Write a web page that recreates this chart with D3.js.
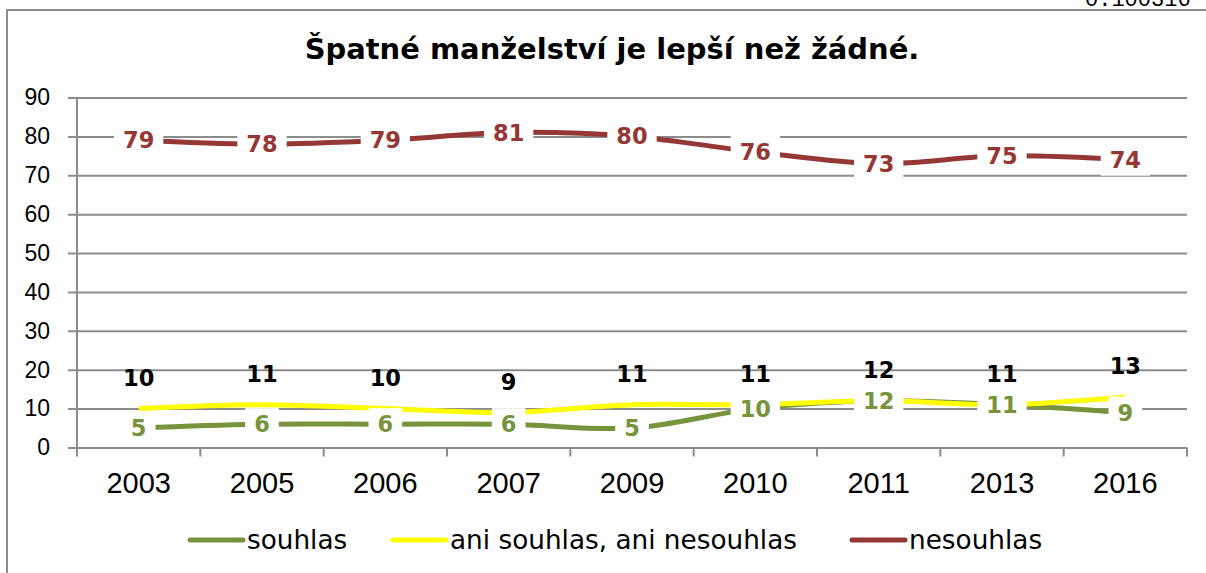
<!DOCTYPE html>
<html>
<head>
<meta charset="utf-8">
<script src="https://cdn.jsdelivr.net/npm/d3@7"></script>
<style>
  body { margin: 0; background: #fff; }
  svg { display: block; font-family: 'DejaVu Sans', Verdana, sans-serif; }
</style>
</head>
<body>
<script>
// data
const years = ["2003", "2005", "2006", "2007", "2009", "2010", "2011", "2013", "2016"];
const souhlas = [5, 6, 6, 6, 5, 10, 12, 11, 9];
const ani = [10, 11, 10, 9, 11, 11, 12, 11, 13];
const nesouhlas = [79, 78, 79, 81, 80, 76, 73, 75, 74];
const yTicks = [0, 10, 20, 30, 40, 50, 60, 70, 80, 90];
const seriesNames = ["souhlas", "ani souhlas, ani nesouhlas", "nesouhlas"];

const width = 1206, height = 573;
const plotLeft = 77, plotRight = 1187, plotTop = 97.5, plotBottom = 447.5;

const series = [
  { name: seriesNames[0], values: souhlas, color: "#77933C", labelColor: "#77933C", box: true, dy: 0 },
  { name: seriesNames[1], values: ani, color: "#FFFF00", labelColor: "#000", box: false, dy: -31 },
  { name: seriesNames[2], values: nesouhlas, color: "#953735", labelColor: "#953735", box: true, dy: 0 }
];

const svg = d3.select("body").append("svg")
  .attr("width", width)
  .attr("height", height);

// outer frame
svg.append("path")
  .attr("d", `M7,${height + 5} L7,10 L${width + 5},10`)
  .attr("fill", "none")
  .attr("stroke", "#8c8c8c")
  .attr("stroke-width", 2);

// clipped page text above the frame
svg.append("text")
  .attr("x", 1085).attr("y", 6)
  .style("font-family", "'Liberation Mono', monospace")
  .style("font-size", "22px")
  .text("0.100316");

// title
const title = svg.append("text")
  .attr("x", 612).attr("y", 59)
  .attr("text-anchor", "middle")
  .style("font-weight", "bold")
  .style("font-size", "28px")
  .text("Špatné manželství je lepší než žádné.");
const tw = title.node().getComputedTextLength();
title.style("font-size", (28 * 615 / tw) + "px");

const x = d3.scaleBand().domain(years).range([plotLeft, plotRight]);
const y = d3.scaleLinear().domain([0, 90]).range([plotBottom, plotTop]);

// gridlines + y axis
const yAxis = d3.axisLeft(y).tickValues(yTicks).tickSize(-(plotRight - plotLeft)).tickPadding(27);
const gy = svg.append("g").attr("transform", `translate(${plotLeft},0)`).call(yAxis);
gy.select(".domain").remove();
gy.selectAll(".tick line").attr("stroke", "#8c8c8c").attr("stroke-width", 2).attr("x1", -9);
gy.selectAll(".tick text").style("font-size", "23px").attr("fill", "#000");

// x axis
const gx = svg.append("g").attr("transform", `translate(0,${plotBottom})`)
  .call(d3.axisBottom(x).tickSize(0).tickPadding(25));
gx.select(".domain").remove();
gx.selectAll(".tick text").style("font-size", "29px").attr("fill", "#000");
svg.append("line")
  .attr("x1", plotLeft).attr("x2", plotLeft).attr("y1", plotTop).attr("y2", plotBottom + 9)
  .attr("stroke", "#8c8c8c").attr("stroke-width", 2);
svg.selectAll(".xtick")
  .data(years)
  .enter().append("line")
  .attr("x1", d => x(d) + x.bandwidth())
  .attr("x2", d => x(d) + x.bandwidth())
  .attr("y1", plotBottom).attr("y2", plotBottom + 9)
  .attr("stroke", "#8c8c8c").attr("stroke-width", 2);

const cx = d => x(d) + x.bandwidth() / 2;

// lines
const line = d3.line()
  .x((d, i) => cx(years[i]))
  .y(d => y(d))
  .curve(d3.curveCardinal.tension(0));

series.forEach(s => {
  svg.append("path")
    .datum(s.values)
    .attr("d", line)
    .attr("fill", "none")
    .attr("stroke", s.color)
    .attr("stroke-width", 5);
});

// data labels
series.forEach(s => {
  const g = svg.append("g");
  s.values.forEach((v, i) => {
    const px = cx(years[i]), py = y(v) + s.dy;
    const lbl = g.append("g");
    const t = lbl.append("text")
      .attr("x", px).attr("y", py)
      .attr("text-anchor", "middle")
      .attr("dy", "0.36em")
      .style("font-weight", "bold")
      .style("font-size", "22.5px")
      .attr("fill", s.labelColor)
      .text(v);
    if (s.box) {
      const w = t.node().getComputedTextLength() + 18;
      lbl.insert("rect", "text")
        .attr("x", px - w / 2).attr("y", py - 16)
        .attr("width", w).attr("height", 32)
        .attr("fill", "#fff");
    }
  });
});

// legend
const legendItems = [
  { s: series[0], x: 190 },
  { s: series[1], x: 393 },
  { s: series[2], x: 852 }
];
legendItems.forEach(l => {
  svg.append("line")
    .attr("x1", l.x).attr("x2", l.x + 53)
    .attr("y1", 540).attr("y2", 540)
    .attr("stroke", l.s.color).attr("stroke-width", 5)
    .attr("stroke-linecap", "round");
  svg.append("text")
    .attr("x", l.x + 57).attr("y", 549)
    .style("font-size", "26.3px")
    .text(l.s.name);
});
</script>
</body>
</html>
